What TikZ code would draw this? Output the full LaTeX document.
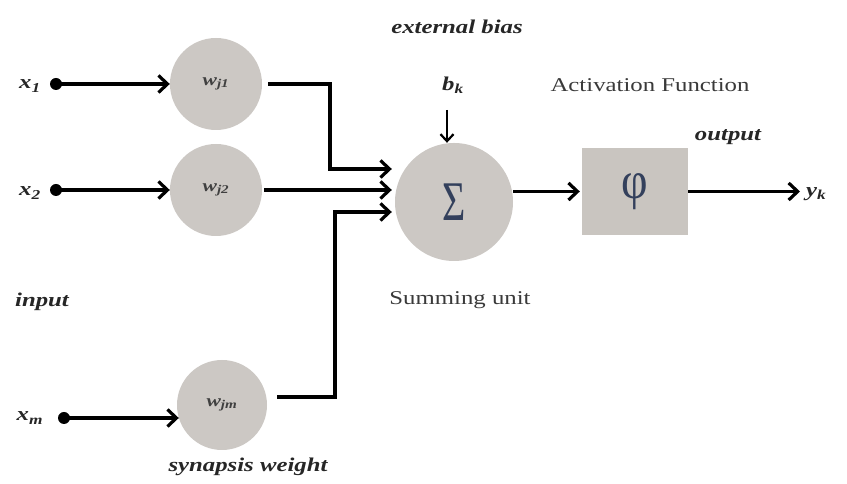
\documentclass[tikz,border=0pt]{standalone}
\usepackage{fontspec}
\setmainfont{Liberation Serif}
\usetikzlibrary{arrows.meta,calc}
\definecolor{cgray}{HTML}{CCC8C4}
\definecolor{bgray}{HTML}{C9C5C0}
\definecolor{symc}{HTML}{33405C}
\definecolor{txtc}{HTML}{3A3A3A}
\newcommand\hs[1]{\scalebox{1.27}[1]{#1}}
\begin{document}
\begin{tikzpicture}[x=1pt,y=1pt,
  neuron/.style={circle, fill=cgray, draw=none, inner sep=0pt},
  lab/.style={font=\fontsize{19.5}{23}\selectfont\bfseries\itshape, text=black!85, inner sep=0pt},
  plain/.style={font=\fontsize{19.5}{23}\selectfont, text=txtc, inner sep=0pt},
  wfont/.style={font=\fontsize{17}{20}\selectfont\bfseries\itshape, text=black!75},
  dotn/.style={circle, fill=black, inner sep=0pt, minimum size=12pt},
  arr/.style={line width=3.2pt, -{Straight Barb[length=9pt,width=17pt]}},
  thinarr/.style={line width=2.2pt, -{Straight Barb[length=7pt,width=13pt]}}]
\useasboundingbox[fill=white] (0,0) rectangle (847,484);

% inputs
\node[lab] (x1) at (30,398) {\hs{x\textsubscript{1}}};
\node[lab] (x2) at (30,291) {\hs{x\textsubscript{2}}};
\node[lab] (xm) at (30,66) {\hs{x\textsubscript{m}}};
\node[dotn] (d1) at (56,400) {};
\node[dotn] (d2) at (56,294) {};
\node[dotn] (dm) at (64,66) {};

% weights
\node[neuron, wfont, minimum size=92pt] (w1) at (216,400) {\hs{w\textsubscript{j1}}};
\node[neuron, wfont, minimum size=92pt] (w2) at (216,294) {\hs{w\textsubscript{j2}}};
\node[neuron, wfont, minimum size=90pt] (wm) at (222,79) {\hs{w\textsubscript{jm}}};

% summing unit and activation
\node[neuron, minimum size=118pt] (sum) at (454,282)
  {\textcolor{symc}{\scalebox{1}[1.4]{\fontsize{40}{44}\selectfont Σ}}};
\node[fill=bgray, minimum width=106pt, minimum height=87pt, inner sep=0pt] (box) at (635,292.5)
  {\textcolor{symc}{\scalebox{1}[1.15]{\fontsize{46}{50}\selectfont φ}}};

% texts
\node[lab] (eb) at (457,457) {\hs{external bias}};
\node[lab] (bk) at (453,399) {\hs{b\textsubscript{k}}};
\node[plain] (af) at (650,399) {\hs{Activation Function}};
\node[lab] (out) at (728,347) {\hs{output}};
\node[plain] (su) at (460,184) {\hs{Summing unit}};
\node[lab] (inp) at (42,182) {\hs{input}};
\node[lab] (sw) at (248,17) {\hs{synapsis weight}};
\node[lab, anchor=west] (yk) at (806,290) {\hs{y\textsubscript{k}}};

% corner coordinates
\coordinate (c1) at (330,315);
\coordinate (c3) at (335,272);
\coordinate (bt) at (447,374);

% input arrows
\draw[arr] (d1.center) -- (d1 -| w1.west);
\draw[arr] (d2.center) -- (d2 -| w2.west);
\draw[arr] (dm.center) -- ($(dm -| wm.west)+(2,0)$);

% weights to sum
\draw[arr] ([xshift=6pt]w1.east) -| (c1) -- ($(c1 -| sum.west)+(-3,0)$);
\draw[arr] ([xshift=2pt]w2.east) -- ($(w2.east -| sum.west)+(-3,0)$);
\draw[arr] ([xshift=10pt,yshift=8pt]wm.east) -| (c3) -- ($(c3 -| sum.west)+(-3,0)$);

% bias
\draw[thinarr] (bt) -- (bt |- sum.north);

% sum to activation, output
\draw[arr] (box.west -| sum.east) -- ([xshift=-2pt]box.west);
\draw[arr] (box.east) -- ([xshift=-6pt]box.east -| yk.west);
\end{tikzpicture}
\end{document}
